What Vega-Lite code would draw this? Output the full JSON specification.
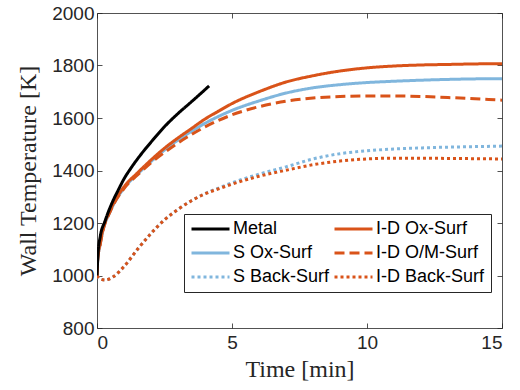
{
  "$schema": "https://vega.github.io/schema/vega-lite/v6.json",
  "width": 405,
  "height": 315,
  "autosize": {"type": "none"},
  "padding": {"left": 97, "top": 13, "right": 18, "bottom": 62},
  "background": "white",
  "config": {
    "view": {"stroke": null},
    "axis": {
      "grid": false,
      "domainColor": "#262626",
      "domainWidth": 0.8,
      "tickColor": "#262626",
      "tickWidth": 0.8,
      "tickSize": -5,
      "labelFont": "Liberation Sans",
      "labelFontSize": 19,
      "labelColor": "#262626",
      "format": "d",
      "titleFont": "Liberation Serif",
      "titleFontSize": 24,
      "titleFontWeight": "normal",
      "titleColor": "#262626"
    },
    "legend": {
      "labelFont": "Liberation Sans",
      "labelFontSize": 18,
      "labelColor": "#000000"
    }
  },
  "datasets": {
    "curves": [
      {"series": "S Ox-Surf", "t": 0, "T": 1000},
      {"series": "S Ox-Surf", "t": 0.03, "T": 1068},
      {"series": "S Ox-Surf", "t": 0.1, "T": 1108},
      {"series": "S Ox-Surf", "t": 0.2, "T": 1162},
      {"series": "S Ox-Surf", "t": 0.5, "T": 1246},
      {"series": "S Ox-Surf", "t": 1, "T": 1333},
      {"series": "S Ox-Surf", "t": 1.5, "T": 1386},
      {"series": "S Ox-Surf", "t": 2, "T": 1434},
      {"series": "S Ox-Surf", "t": 2.5, "T": 1478},
      {"series": "S Ox-Surf", "t": 3, "T": 1516},
      {"series": "S Ox-Surf", "t": 3.5, "T": 1549},
      {"series": "S Ox-Surf", "t": 4, "T": 1580},
      {"series": "S Ox-Surf", "t": 4.5, "T": 1606},
      {"series": "S Ox-Surf", "t": 5, "T": 1629},
      {"series": "S Ox-Surf", "t": 6, "T": 1665},
      {"series": "S Ox-Surf", "t": 7, "T": 1695},
      {"series": "S Ox-Surf", "t": 8, "T": 1715},
      {"series": "S Ox-Surf", "t": 9, "T": 1727},
      {"series": "S Ox-Surf", "t": 10, "T": 1735},
      {"series": "S Ox-Surf", "t": 11, "T": 1740},
      {"series": "S Ox-Surf", "t": 12, "T": 1744},
      {"series": "S Ox-Surf", "t": 13, "T": 1747},
      {"series": "S Ox-Surf", "t": 14, "T": 1749},
      {"series": "S Ox-Surf", "t": 15, "T": 1750},

      {"series": "S Back-Surf", "t": 0, "T": 1000},
      {"series": "S Back-Surf", "t": 0.1, "T": 988},
      {"series": "S Back-Surf", "t": 0.3, "T": 983},
      {"series": "S Back-Surf", "t": 0.6, "T": 995},
      {"series": "S Back-Surf", "t": 1, "T": 1034},
      {"series": "S Back-Surf", "t": 1.5, "T": 1100},
      {"series": "S Back-Surf", "t": 2, "T": 1160},
      {"series": "S Back-Surf", "t": 2.5, "T": 1212},
      {"series": "S Back-Surf", "t": 3, "T": 1252},
      {"series": "S Back-Surf", "t": 3.5, "T": 1285},
      {"series": "S Back-Surf", "t": 4, "T": 1312},
      {"series": "S Back-Surf", "t": 4.5, "T": 1333},
      {"series": "S Back-Surf", "t": 5, "T": 1353},
      {"series": "S Back-Surf", "t": 6, "T": 1386},
      {"series": "S Back-Surf", "t": 7, "T": 1414},
      {"series": "S Back-Surf", "t": 8, "T": 1444},
      {"series": "S Back-Surf", "t": 9, "T": 1464},
      {"series": "S Back-Surf", "t": 10, "T": 1475},
      {"series": "S Back-Surf", "t": 11, "T": 1482},
      {"series": "S Back-Surf", "t": 12, "T": 1486},
      {"series": "S Back-Surf", "t": 13, "T": 1489},
      {"series": "S Back-Surf", "t": 14, "T": 1491},
      {"series": "S Back-Surf", "t": 15, "T": 1493},

      {"series": "I-D Ox-Surf", "t": 0, "T": 1000},
      {"series": "I-D Ox-Surf", "t": 0.03, "T": 1070},
      {"series": "I-D Ox-Surf", "t": 0.1, "T": 1112},
      {"series": "I-D Ox-Surf", "t": 0.2, "T": 1166},
      {"series": "I-D Ox-Surf", "t": 0.5, "T": 1250},
      {"series": "I-D Ox-Surf", "t": 1, "T": 1338},
      {"series": "I-D Ox-Surf", "t": 1.5, "T": 1391},
      {"series": "I-D Ox-Surf", "t": 2, "T": 1440},
      {"series": "I-D Ox-Surf", "t": 2.5, "T": 1485},
      {"series": "I-D Ox-Surf", "t": 3, "T": 1524},
      {"series": "I-D Ox-Surf", "t": 3.5, "T": 1560},
      {"series": "I-D Ox-Surf", "t": 4, "T": 1596},
      {"series": "I-D Ox-Surf", "t": 4.5, "T": 1626},
      {"series": "I-D Ox-Surf", "t": 5, "T": 1655},
      {"series": "I-D Ox-Surf", "t": 6, "T": 1700},
      {"series": "I-D Ox-Surf", "t": 7, "T": 1737},
      {"series": "I-D Ox-Surf", "t": 8, "T": 1761},
      {"series": "I-D Ox-Surf", "t": 9, "T": 1779},
      {"series": "I-D Ox-Surf", "t": 10, "T": 1791},
      {"series": "I-D Ox-Surf", "t": 11, "T": 1798},
      {"series": "I-D Ox-Surf", "t": 12, "T": 1802},
      {"series": "I-D Ox-Surf", "t": 13, "T": 1804},
      {"series": "I-D Ox-Surf", "t": 14, "T": 1806},
      {"series": "I-D Ox-Surf", "t": 15, "T": 1807},

      {"series": "I-D O/M-Surf", "t": 0, "T": 1000},
      {"series": "I-D O/M-Surf", "t": 0.03, "T": 1068},
      {"series": "I-D O/M-Surf", "t": 0.1, "T": 1108},
      {"series": "I-D O/M-Surf", "t": 0.2, "T": 1162},
      {"series": "I-D O/M-Surf", "t": 0.5, "T": 1246},
      {"series": "I-D O/M-Surf", "t": 1, "T": 1331},
      {"series": "I-D O/M-Surf", "t": 1.5, "T": 1383},
      {"series": "I-D O/M-Surf", "t": 2, "T": 1429},
      {"series": "I-D O/M-Surf", "t": 2.5, "T": 1469},
      {"series": "I-D O/M-Surf", "t": 3, "T": 1505},
      {"series": "I-D O/M-Surf", "t": 3.5, "T": 1537},
      {"series": "I-D O/M-Surf", "t": 4, "T": 1566},
      {"series": "I-D O/M-Surf", "t": 4.5, "T": 1591},
      {"series": "I-D O/M-Surf", "t": 5, "T": 1612},
      {"series": "I-D O/M-Surf", "t": 6, "T": 1643},
      {"series": "I-D O/M-Surf", "t": 7, "T": 1664},
      {"series": "I-D O/M-Surf", "t": 8, "T": 1676},
      {"series": "I-D O/M-Surf", "t": 9, "T": 1682},
      {"series": "I-D O/M-Surf", "t": 10, "T": 1684},
      {"series": "I-D O/M-Surf", "t": 11, "T": 1684},
      {"series": "I-D O/M-Surf", "t": 12, "T": 1682},
      {"series": "I-D O/M-Surf", "t": 13, "T": 1678},
      {"series": "I-D O/M-Surf", "t": 14, "T": 1673},
      {"series": "I-D O/M-Surf", "t": 15, "T": 1668},

      {"series": "I-D Back-Surf", "t": 0, "T": 1000},
      {"series": "I-D Back-Surf", "t": 0.1, "T": 988},
      {"series": "I-D Back-Surf", "t": 0.3, "T": 983},
      {"series": "I-D Back-Surf", "t": 0.6, "T": 995},
      {"series": "I-D Back-Surf", "t": 1, "T": 1034},
      {"series": "I-D Back-Surf", "t": 1.5, "T": 1100},
      {"series": "I-D Back-Surf", "t": 2, "T": 1160},
      {"series": "I-D Back-Surf", "t": 2.5, "T": 1212},
      {"series": "I-D Back-Surf", "t": 3, "T": 1252},
      {"series": "I-D Back-Surf", "t": 3.5, "T": 1285},
      {"series": "I-D Back-Surf", "t": 4, "T": 1311},
      {"series": "I-D Back-Surf", "t": 4.5, "T": 1330},
      {"series": "I-D Back-Surf", "t": 5, "T": 1348},
      {"series": "I-D Back-Surf", "t": 6, "T": 1378},
      {"series": "I-D Back-Surf", "t": 7, "T": 1401},
      {"series": "I-D Back-Surf", "t": 8, "T": 1422},
      {"series": "I-D Back-Surf", "t": 9, "T": 1436},
      {"series": "I-D Back-Surf", "t": 10, "T": 1444},
      {"series": "I-D Back-Surf", "t": 11, "T": 1447},
      {"series": "I-D Back-Surf", "t": 12, "T": 1447},
      {"series": "I-D Back-Surf", "t": 13, "T": 1446},
      {"series": "I-D Back-Surf", "t": 14, "T": 1445},
      {"series": "I-D Back-Surf", "t": 15, "T": 1444},

      {"series": "Metal", "t": 0, "T": 1000},
      {"series": "Metal", "t": 0.04, "T": 1085},
      {"series": "Metal", "t": 0.12, "T": 1148},
      {"series": "Metal", "t": 0.3, "T": 1208},
      {"series": "Metal", "t": 0.55, "T": 1275},
      {"series": "Metal", "t": 0.8, "T": 1328},
      {"series": "Metal", "t": 1, "T": 1368},
      {"series": "Metal", "t": 1.25, "T": 1408},
      {"series": "Metal", "t": 1.5, "T": 1444},
      {"series": "Metal", "t": 1.75, "T": 1477},
      {"series": "Metal", "t": 2, "T": 1508},
      {"series": "Metal", "t": 2.5, "T": 1567},
      {"series": "Metal", "t": 3, "T": 1617},
      {"series": "Metal", "t": 3.5, "T": 1662},
      {"series": "Metal", "t": 4, "T": 1708},
      {"series": "Metal", "t": 4.15, "T": 1722}
    ]
  },
  "data": {"name": "curves"},
  "layer": [
    {
      "mark": {"type": "line", "strokeWidth": 3, "strokeCap": "butt", "interpolate": "monotone", "clip": true},
      "encoding": {
        "x": {
          "field": "t", "type": "quantitative",
          "scale": {"domain": [0, 15], "nice": false, "zero": false},
          "axis": {"orient": "bottom", "values": [0, 5, 10, 15], "title": "Time [min]", "labelPadding": 10, "titlePadding": 5}
        },
        "y": {
          "field": "T", "type": "quantitative",
          "scale": {"domain": [800, 2000], "nice": false, "zero": false},
          "axis": {"orient": "left", "values": [800, 1000, 1200, 1400, 1600, 1800, 2000], "title": "Wall Temperature [K]", "labelPadding": 8, "titlePadding": 11}
        },
        "color": {
          "field": "series", "type": "nominal",
          "scale": {
            "domain": ["Metal", "S Ox-Surf", "S Back-Surf", "I-D Ox-Surf", "I-D O/M-Surf", "I-D Back-Surf"],
            "range": ["#000000", "#80B6DD", "#80B6DD", "#D95319", "#D95319", "#D95319"]
          },
          "legend": {
            "title": null,
            "orient": "none",
            "legendX": 87,
            "legendY": 201,
            "columns": 2,
            "symbolType": "stroke",
            "symbolSize": 1444,
            "symbolStrokeWidth": 3,
            "clipHeight": 18,
            "labelOffset": 2,
            "columnPadding": 3,
            "rowPadding": 6,
            "padding": 6,
            "fillColor": "white",
            "strokeColor": "#262626"
          }
        },
        "strokeDash": {
          "field": "series", "type": "nominal",
          "scale": {
            "domain": ["Metal", "S Ox-Surf", "S Back-Surf", "I-D Ox-Surf", "I-D O/M-Surf", "I-D Back-Surf"],
            "range": [[1, 0], [1, 0], [3, 3], [1, 0], [10, 5], [3, 3]]
          },
          "legend": {
            "title": null,
            "orient": "none",
            "legendX": 87,
            "legendY": 201,
            "columns": 2,
            "symbolType": "stroke",
            "symbolSize": 1444,
            "symbolStrokeWidth": 3,
            "clipHeight": 18,
            "labelOffset": 2,
            "columnPadding": 3,
            "rowPadding": 6,
            "padding": 6,
            "fillColor": "white",
            "strokeColor": "#262626"
          }
        }
      }
    },
    {
      "mark": {"type": "line", "strokeOpacity": 0},
      "encoding": {
        "detail": {"field": "series", "type": "nominal"},
        "x": {
          "field": "t", "type": "quantitative",
          "axis": {"orient": "top", "values": [0, 5, 10, 15], "labels": false, "title": null}
        },
        "y": {
          "field": "T", "type": "quantitative",
          "axis": {"orient": "right", "values": [800, 1000, 1200, 1400, 1600, 1800, 2000], "labels": false, "title": null}
        }
      }
    }
  ],
  "resolve": {"axis": {"x": "independent", "y": "independent"}}
}
